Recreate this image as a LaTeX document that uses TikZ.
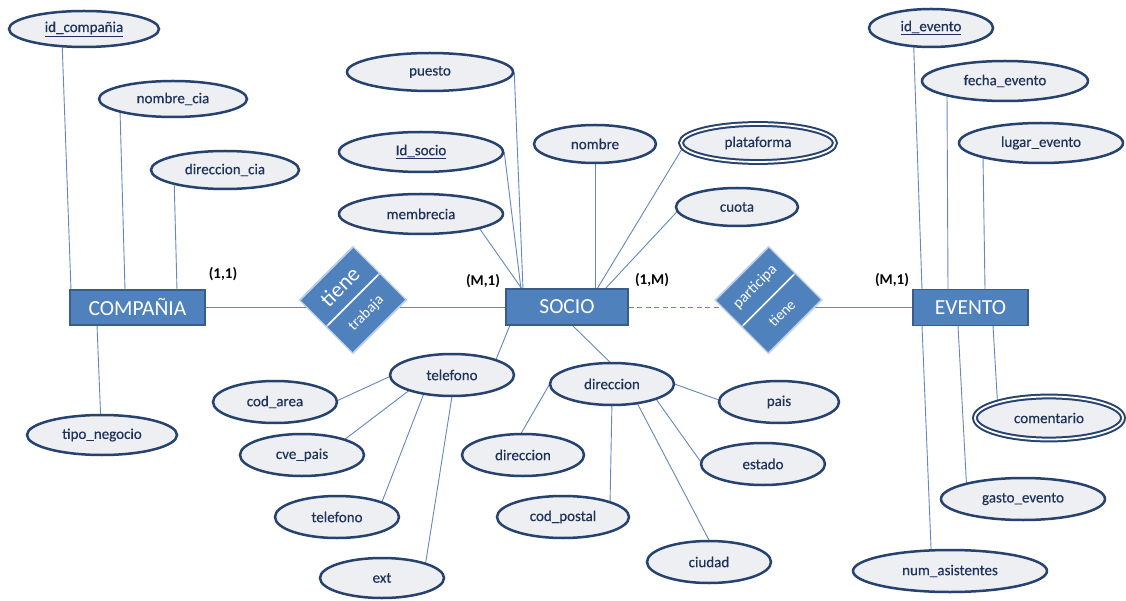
\documentclass[tikz,border=0pt]{standalone}
\usepackage{fontspec}
\setmainfont{Carlito}
\newfontfamily\attrfam[UprightFeatures={FakeBold=0.35}]{Carlito}
\usetikzlibrary{shapes.geometric,calc}
\definecolor{entfill}{RGB}{79,129,189}
\definecolor{entline}{RGB}{56,93,138}
\definecolor{attrline}{RGB}{38,66,110}
\definecolor{attrfill}{RGB}{238,239,242}
\definecolor{attrtext}{RGB}{30,50,90}
\definecolor{connc}{RGB}{100,135,190}
\definecolor{glow}{RGB}{190,208,232}
\pgfdeclarelayer{lines}
\pgfsetlayers{lines,main}

\begin{document}
\begin{tikzpicture}[x=1pt,y=-1pt,
  attr/.style={ellipse, draw=attrline, line width=2.5pt, fill=attrfill, inner sep=0pt,
    text=attrtext, font=\attrfam\fontsize{15}{17}\selectfont},
  multi/.style={attr, line width=2pt, double=white, double distance=1.8pt},
  entity/.style={rectangle, draw=entline, fill=entfill, line width=1.4pt, text=white,
    inner sep=0pt, font=\fontsize{21.5}{23}\selectfont},
  relhalf/.style={rectangle, rotate=45, fill=entfill, inner sep=0pt,
    minimum width=74pt, minimum height=35.5pt, text=white},
  relglow/.style={rectangle, rotate=45, fill=white, draw=glow, line width=3pt,
    minimum size=74pt, inner sep=0pt},
  card/.style={font=\bfseries\fontsize{15}{17}\selectfont, text=black},
  conn/.style={draw=connc, line width=0.9pt},
  weak/.style={conn, dash pattern=on 5pt off 3.5pt}]

\useasboundingbox (0,0) rectangle (1126,601);
\begin{pgfonlayer}{lines}
  \fill[white] (0,0) rectangle (1126,601);
\end{pgfonlayer}

% entities
\node[entity, minimum width=135pt, minimum height=35pt] (comp) at (137.5,307.5) {COMPAÑIA};
\node[entity, minimum width=122pt, minimum height=36pt] (socio) at (567,307) {SOCIO};
\node[entity, minimum width=115pt, minimum height=36pt] (evento) at (970.5,307.5) {EVENTO};

% relationships
\coordinate (d1) at (353,300);
\node[relglow] (d1g) at (d1) {};
\node[relhalf, font=\fontsize{22}{24}\selectfont] (d1a) at ($(d1)+(-13.26,-13.26)$) {tiene};
\node[relhalf, font=\fontsize{15}{17}\selectfont] (d1b) at ($(d1)+(13.26,13.26)$) {trabaja};

\coordinate (d2) at (768.5,300);
\node[relglow] (d2g) at (d2) {};
\node[relhalf, font=\fontsize{15.5}{17}\selectfont] (d2a) at ($(d2)+(-13.26,-13.26)$) {participa};
\node[relhalf, font=\fontsize{15}{17}\selectfont] (d2b) at ($(d2)+(13.26,13.26)$) {tiene};

% cardinalities
\node[card] (c1) at (223,274) {(1,1)};
\node[card] (c2) at (483,281) {(M,1)};
\node[card] (c3) at (652,280) {(1,M)};
\node[card] (c4) at (892,280) {(M,1)};

% COMPAÑIA attributes
\node[attr, minimum width=150pt, minimum height=36pt] (idcomp) at (84,29) {\underline{id\_compañia}};
\node[attr, minimum width=148pt, minimum height=36pt] (nomcia) at (173,99) {nombre\_cia};
\node[attr, minimum width=148pt, minimum height=38pt] (dircia) at (225,170) {direccion\_cia};
\node[attr, minimum width=150pt, minimum height=40pt] (tiponeg) at (102,435) {tipo\_negocio};

% SOCIO attributes
\node[attr, minimum width=166pt, minimum height=38pt] (puesto) at (430,72) {puesto};
\node[attr, minimum width=164pt, minimum height=40pt] (idsocio) at (421,152) {\underline{Id\_socio}};
\node[attr, minimum width=164pt, minimum height=40pt] (membrecia) at (421,214) {membrecia};
\node[attr, minimum width=122pt, minimum height=38pt] (nombre) at (595,144) {nombre};
\node[multi, minimum width=154pt, minimum height=38pt] (plataforma) at (758,143) {plataforma};
\node[attr, minimum width=122pt, minimum height=38pt] (cuota) at (737,207) {cuota};

\node[attr, minimum width=124pt, minimum height=42pt] (tel) at (452,375) {telefono};
\node[attr, minimum width=124pt, minimum height=42pt] (codarea) at (275,402) {cod\_area};
\node[attr, minimum width=124pt, minimum height=42pt] (cvepais) at (302,455) {cve\_pais};
\node[attr, minimum width=124pt, minimum height=42pt] (telnum) at (337,517) {telefono};
\node[attr, minimum width=124pt, minimum height=40pt] (ext) at (382,578) {ext};

\node[attr, minimum width=124pt, minimum height=42pt] (dir) at (612,384) {direccion};
\node[attr, minimum width=122pt, minimum height=42pt] (dircalle) at (523,455) {direccion};
\node[attr, minimum width=132pt, minimum height=42pt] (codpostal) at (563,517) {cod\_postal};
\node[attr, minimum width=124pt, minimum height=42pt] (ciudad) at (709,562) {ciudad};
\node[attr, minimum width=124pt, minimum height=42pt] (estado) at (763,464) {estado};
\node[attr, minimum width=120pt, minimum height=42pt] (pais) at (779,402) {pais};

% EVENTO attributes
\node[attr, minimum width=124pt, minimum height=38pt] (idev) at (931,28) {\underline{id\_evento}};
\node[attr, minimum width=166pt, minimum height=40pt] (fecha) at (1005,81) {fecha\_evento};
\node[attr, minimum width=164pt, minimum height=40pt] (lugar) at (1041,143) {lugar\_evento};
\node[multi, minimum width=148pt, minimum height=43pt] (coment) at (1049,418) {comentario};
\node[attr, minimum width=164pt, minimum height=42pt] (gasto) at (1023,499) {gasto\_evento};
\node[attr, minimum width=194pt, minimum height=42pt] (numasis) at (950,571) {num\_asistentes};

% connectors, drawn underneath the shapes
\begin{pgfonlayer}{lines}
  % relationship lines
  \draw[conn] (comp) -- (d1 |- comp);
  \draw[conn] (d1 |- socio) -- (socio);
  \draw[weak] (socio) -- (d2 |- socio);
  \draw[conn] (d2 |- evento) -- (evento);

  % COMPAÑIA
  \draw[conn] ($(idcomp)+(-22,11)$) -- ($(comp)+(-66.5,-17.5)$);
  \draw[conn] ($(nomcia)+(-53,11)$) -- ($(comp)+(-12.5,-17.5)$);
  \draw[conn] ($(dircia)+(-51,5)$) -- ($(comp)+(39.5,-17.5)$);
  \draw[conn] ($(comp)+(-40.5,17.5)$) -- ($(tiponeg)+(-1,-10)$);

  % SOCIO
  \draw[conn] (puesto.east) -- ($(socio)+(-44,-18)$);
  \draw[conn] (idsocio.east) -- ($(socio)+(-46,-18)$);
  \draw[conn] ($(membrecia)+(49,1)$) -- ($(socio)+(-45,-18)$);
  \draw[conn] (nombre) -- ($(socio)+(28,-18)$);
  \draw[conn] ($(plataforma)+(-70,-4)$) -- ($(socio)+(30,-18)$);
  \draw[conn] ($(cuota)+(-50,-6)$) -- ($(socio)+(38,-18)$);
  \draw[conn] ($(socio)+(-57,18)$) -- ($(tel)+(41,-8)$);
  \draw[conn] ($(socio)+(5,18)$) -- ($(dir)+(6,-14)$);

  % telefono
  \draw[conn] ($(codarea)+(55,2)$) -- ($(tel)+(-56,-1.3)$);
  \draw[conn] ($(cvepais)+(38,-12)$) -- ($(tel)+(-39,12.5)$);
  \draw[conn] ($(telnum)+(43,-10)$) -- ($(tel)+(-24,8)$);
  \draw[conn] ($(ext)+(43,-11)$) -- ($(tel)+(1,15)$);

  % direccion
  \draw[conn] ($(dir)+(-60,-4)$) -- ($(dircalle)+(-4,-18)$);
  \draw[conn] ($(dir)+(0,16)$) -- ($(codpostal)+(47,-12)$);
  \draw[conn] ($(dir)+(23,15)$) -- ($(ciudad)+(1,-20)$);
  \draw[conn] ($(dir)+(43,13.6)$) -- ($(estado)+(-61,-0.4)$);
  \draw[conn] ($(dir)+(57,-2)$) -- ($(pais)+(-53,0.6)$);

  % EVENTO
  \draw[conn] ($(idev)+(-17.5,12)$) -- ($(evento)+(-48.5,-18)$);
  \draw[conn] ($(fecha)+(-58,14)$) -- ($(evento)+(-22.5,-18)$);
  \draw[conn] ($(lugar)+(-58,13)$) -- ($(evento)+(14.5,-18)$);
  \draw[conn] ($(evento)+(-48.5,18)$) -- ($(numasis)+(-18.5,-11)$);
  \draw[conn] ($(evento)+(-12.5,18)$) -- ($(gasto)+(-56.5,-14)$);
  \draw[conn] ($(evento)+(22.5,18)$) -- ($(coment)+(-51.5,-15)$);
\end{pgfonlayer}
\end{tikzpicture}
\end{document}
